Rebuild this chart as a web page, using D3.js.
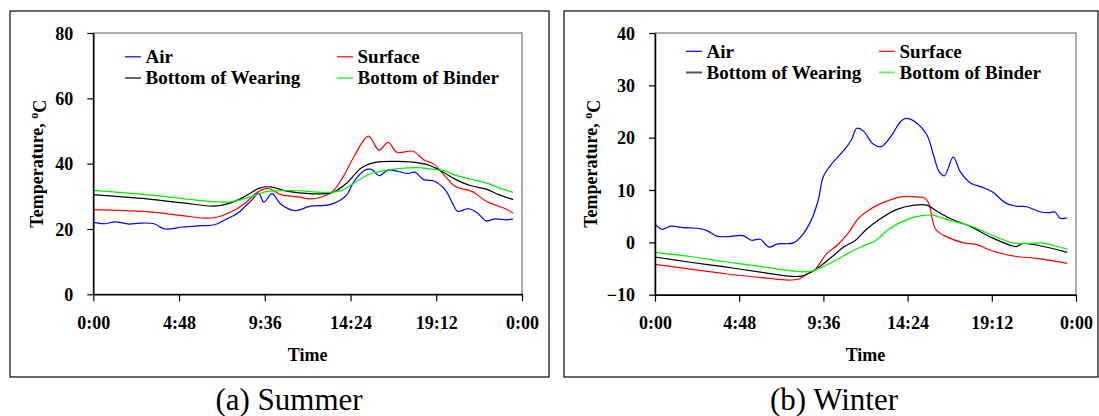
<!DOCTYPE html>
<html>
<head>
<meta charset="utf-8">
<script src="https://cdn.jsdelivr.net/npm/d3@7"></script>
<style>
  html, body { margin: 0; padding: 0; background: #fff; }
  svg { display: block; }
  text { font-family: "Liberation Serif", "Times New Roman", serif; fill: #000; }
</style>
</head>
<body>
<svg id="chart" width="1099" height="416"></svg>
<script>
// Hour of day (0-24) and temperature in °C for each measurement depth
const xTickValues = [0, 4.8, 9.6, 14.4, 19.2, 24];
const xTickLabels = ["0:00", "4:48", "9:36", "14:24", "19:12", "0:00"];
const summerYTicks = [0, 20, 40, 60, 80];
const winterYTicks = [-10, 0, 10, 20, 30, 40];
const seriesNames = ["Air", "Surface", "Bottom of Wearing", "Bottom of Binder"];
const seriesColors = ["#0000ff", "#ff0000", "#000000", "#00ee00"];

const summerAir = [[0,22.0],[0.65,21.6],[1.2,22.2],[2.0,21.5],[2.6,21.8],[3.4,21.6],[4.0,20.0],[5.0,20.6],[6.0,21.0],[6.8,21.3],[7.3,22.6],[8.1,24.9],[8.5,26.9],[8.9,29.0],[9.25,31.0],[9.55,28.2],[10.0,30.8],[10.5,27.6],[11.3,25.6],[12.1,26.9],[13.2,27.4],[13.8,28.7],[14.2,30.5],[14.6,34.6],[15.2,38.0],[15.6,38.2],[16.0,36.3],[16.5,38.0],[17.0,37.7],[17.6,37.0],[18.0,37.4],[18.5,35.1],[19.1,34.6],[19.7,32.0],[20.1,28.0],[20.4,25.4],[21.0,26.2],[21.5,24.9],[22.0,22.5],[22.5,23.1],[23.1,22.8],[23.5,23.0]];
const summerSurface = [[0,25.9],[3.0,25.3],[5.0,24.1],[6.2,23.3],[6.9,23.6],[7.7,25.2],[8.5,27.9],[9.2,31.3],[9.8,32.4],[10.5,30.5],[11.5,29.8],[12.1,29.2],[12.8,29.8],[13.4,31.5],[14.0,36.1],[14.6,42.2],[15.4,48.4],[16.0,44.1],[16.5,46.5],[17.0,43.5],[17.9,43.8],[18.5,41.2],[19.1,39.7],[19.7,36.1],[20.3,32.9],[21.2,31.5],[22.0,28.5],[23.1,26.1],[23.5,24.9]];
const summerWearing = [[0,30.5],[3.0,29.2],[5.0,28.0],[6.8,27.0],[7.7,28.0],[8.5,30.0],[9.3,32.5],[9.9,32.9],[10.9,31.5],[12.1,30.8],[13.4,31.2],[14.2,34.1],[15.0,38.7],[15.8,40.4],[17.0,40.7],[17.8,40.5],[18.7,39.7],[19.5,37.7],[20.3,35.1],[21.1,33.3],[22.0,32.2],[22.7,30.5],[23.5,29.0]];
const summerBinder = [[0,31.8],[3.0,30.5],[5.0,29.3],[6.9,28.3],[7.7,28.3],[8.9,30.0],[9.7,31.5],[10.5,31.7],[11.5,31.7],[12.5,31.3],[13.4,31.3],[14.0,32.0],[14.6,34.1],[15.4,36.6],[16.2,37.8],[17.6,38.7],[18.4,38.7],[19.1,38.2],[19.7,37.7],[20.3,36.4],[21.1,35.3],[22.0,34.1],[22.7,32.6],[23.5,31.2]];

const winterAir = [[0,3.5],[0.4,2.5],[0.9,3.1],[1.6,2.8],[2.4,2.7],[3.0,2.2],[3.5,1.2],[4.2,1.1],[5.0,1.3],[5.5,0.4],[6.0,0.6],[6.5,-0.9],[7.0,-0.3],[7.9,-0.1],[8.4,1.4],[8.9,4.2],[9.3,8.0],[9.6,12.6],[10.1,15.1],[10.8,17.7],[11.2,19.6],[11.5,21.8],[11.9,21.2],[12.4,18.9],[12.9,18.3],[13.5,20.5],[14.0,23.1],[14.3,23.7],[14.8,23.1],[15.5,20.5],[15.9,16.4],[16.2,13.5],[16.5,12.7],[17.0,16.3],[17.4,13.5],[18.0,11.3],[18.6,10.6],[19.2,9.7],[20.0,7.5],[20.6,6.9],[21.2,6.8],[22.0,5.8],[22.5,5.7],[22.8,5.8],[23.1,4.6],[23.5,4.7]];
const winterSurface = [[0,-4.2],[2.0,-5.1],[4.0,-6.0],[6.0,-6.7],[7.6,-7.2],[8.2,-7.0],[8.7,-6.0],[9.1,-5.3],[9.8,-2.1],[10.4,-0.5],[11.0,1.7],[11.6,4.6],[12.2,6.2],[12.8,7.3],[14.0,8.7],[14.8,8.7],[15.4,8.4],[15.6,7.5],[16.0,2.5],[16.6,1.1],[17.6,-0.1],[18.3,-0.4],[19.2,-1.6],[20.6,-2.7],[21.6,-3.0],[22.6,-3.5],[23.5,-4.0]];
const winterWearing = [[0,-2.8],[2.0,-3.8],[4.0,-4.7],[6.0,-5.7],[7.8,-6.5],[8.4,-6.4],[9.1,-5.3],[10.0,-3.0],[10.8,-0.8],[11.4,0.3],[12.0,2.3],[12.8,4.4],[13.8,6.3],[14.8,7.1],[15.5,7.1],[16.0,6.1],[16.8,4.6],[18.0,3.0],[19.2,0.9],[20.4,-0.7],[20.6,-0.8],[21.0,-0.2],[22.0,-0.7],[23.5,-1.9]];
const winterBinder = [[0,-1.9],[2.0,-2.7],[4.0,-3.7],[6.0,-4.6],[7.6,-5.4],[8.8,-5.6],[9.1,-5.3],[10.0,-4.0],[11.0,-2.1],[11.8,-0.8],[12.6,0.4],[13.4,2.7],[14.4,4.4],[15.2,5.1],[15.8,5.2],[16.8,4.2],[18.0,3.1],[19.2,1.4],[20.4,-0.1],[21.4,-0.2],[22.0,-0.1],[23.5,-1.3]];

const panels = [
  {
    caption: "(a) Summer", captionX: 289,
    frame: [10, 11, 549, 377],
    plot: { left: 93.3, right: 522, top: 33, bottom: 294.3 },
    yDomain: [0, 80], yTicks: summerYTicks,
    yTitleX: 43,
    series: [summerAir, summerSurface, summerWearing, summerBinder],
    legend: { x1: 125, x2: 337, rowY: [56.8, 78], lineLen: 16 },
    legendStroke: [null, null, null, null]
  },
  {
    caption: "(b) Winter", captionX: 834,
    frame: [564, 11, 1098, 377],
    plot: { left: 655, right: 1076, top: 33, bottom: 294.7 },
    yDomain: [-10, 40], yTicks: winterYTicks,
    yTitleX: 597,
    series: [winterAir, winterSurface, winterWearing, winterBinder],
    legend: { x1: 686, x2: 879, rowY: [51.3, 72.5], lineLen: 16 },
    legendStroke: [null, null, { c: "#555", w: 2 }, { c: "#77ee77", w: 2.2 }]
  }
];

const svg = d3.select("#chart");

panels.forEach(p => {
  const g = svg.append("g");
  const [fx0, fy0, fx1, fy1] = p.frame;

  // Outer frame of the panel
  g.append("rect")
    .attr("x", fx0).attr("y", fy0)
    .attr("width", fx1 - fx0).attr("height", fy1 - fy0)
    .attr("fill", "none").attr("stroke", "#1a1a1a").attr("stroke-width", 1.3);

  const x = d3.scaleLinear().domain([0, 24]).range([p.plot.left, p.plot.right]);
  const y = d3.scaleLinear().domain(p.yDomain).range([p.plot.bottom, p.plot.top]);

  // Plot-area border (grey), axes drawn on top in black
  g.append("rect")
    .attr("x", p.plot.left).attr("y", p.plot.top)
    .attr("width", p.plot.right - p.plot.left).attr("height", p.plot.bottom - p.plot.top)
    .attr("fill", "none").attr("stroke", "#808080").attr("stroke-width", 1.3);

  // Temperature series
  const line = d3.line()
    .x(d => x(d[0])).y(d => y(d[1]))
    .curve(d3.curveCatmullRom.alpha(0.5));
  p.series.forEach((data, i) => {
    g.append("path")
      .datum(data)
      .attr("d", line)
      .attr("fill", "none")
      .attr("stroke", seriesColors[i])
      .attr("stroke-width", 1.2)
      .attr("stroke-linejoin", "round");
  });

  // Y axis
  const yAxis = d3.axisLeft(y).tickValues(p.yTicks).tickSize(6).tickSizeOuter(0).tickPadding(14);
  const ya = g.append("g").attr("transform", `translate(${p.plot.left},0)`).call(yAxis);
  ya.select(".domain").attr("stroke", "#000").attr("stroke-width", 1.5);
  ya.selectAll(".tick line").attr("stroke", "#000").attr("stroke-width", 1.2);
  ya.selectAll(".tick text")
    .style("font-family", "'Liberation Serif', serif")
    .style("font-weight", "bold").style("font-size", "18px").attr("fill", "#000")
    .attr("dy", "0.34em");

  // X axis (time of day)
  const xAxis = d3.axisBottom(x).tickValues(xTickValues)
    .tickFormat((d, i) => xTickLabels[i]).tickSize(7).tickSizeOuter(0).tickPadding(15);
  const xa = g.append("g").attr("transform", `translate(0,${p.plot.bottom})`).call(xAxis);
  xa.select(".domain").attr("stroke", "#000").attr("stroke-width", 1.5);
  xa.selectAll(".tick line").attr("stroke", "#000").attr("stroke-width", 1.2);
  xa.selectAll(".tick text")
    .style("font-family", "'Liberation Serif', serif")
    .style("font-weight", "bold").style("font-size", "18px").attr("fill", "#000");

  // Axis titles
  g.append("text")
    .attr("x", (p.plot.left + p.plot.right) / 2).attr("y", 360.5)
    .attr("text-anchor", "middle")
    .style("font-weight", "bold").style("font-size", "18px")
    .text("Time");

  const yt = g.append("text")
    .attr("transform", `translate(${p.yTitleX},${(p.plot.top + p.plot.bottom) / 2}) rotate(-90)`)
    .attr("text-anchor", "middle")
    .style("font-weight", "bold").style("font-size", "18px");
  yt.append("tspan").text("Temperature, ");
  yt.append("tspan").attr("dy", "-0.45em").style("font-size", "12px").text("o");
  yt.append("tspan").attr("dy", "0.45em").text("C");

  // Legend, two columns by two rows
  const L = p.legend;
  seriesNames.forEach((name, i) => {
    const col = i % 2, row = Math.floor(i / 2);
    const lx = col === 0 ? L.x1 : L.x2;
    const ly = L.rowY[row];
    const st = p.legendStroke[i];
    g.append("line")
      .attr("x1", lx).attr("x2", lx + L.lineLen)
      .attr("y1", ly).attr("y2", ly)
      .attr("stroke", st ? st.c : seriesColors[i])
      .attr("stroke-width", st ? st.w : 1.2);
    g.append("text")
      .attr("x", lx + L.lineLen + 4.5).attr("y", ly + 6.3)
      .style("font-weight", "bold").style("font-size", "19px")
      .text(name);
  });

  // Panel caption
  g.append("text")
    .attr("x", p.captionX).attr("y", 409.5)
    .attr("text-anchor", "middle")
    .style("font-size", "31px")
    .text(p.caption);
});
</script>
</body>
</html>
